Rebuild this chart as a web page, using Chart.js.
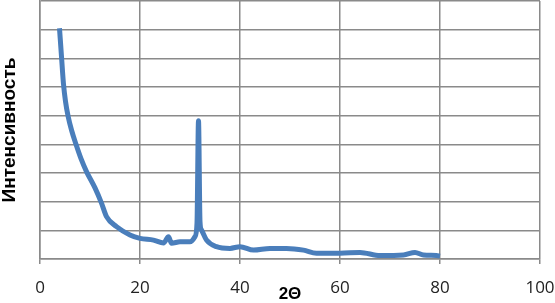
<!DOCTYPE html>
<html>
<head>
<meta charset="utf-8">
<script src="https://cdn.jsdelivr.net/npm/chart.js@4"></script>
<style>
    html, body { margin: 0; padding: 0; background: #fff; }
    #wrap { width: 555px; height: 303px; }
</style>
</head>
<body>
<div id="wrap"><canvas id="xrd"></canvas></div>
<script>
// 2θ values and intensity (arbitrary units, one grid step = 1)
const twoTheta = [3.9, 4.3, 4.7, 5.1, 5.6, 6.3, 7.2, 8.2, 9.3, 11.0, 12.3, 13.3, 15.3, 18.0, 20.0, 22.7, 24.7,
    25.7, 26.3, 28.0, 30.0, 31.0, 31.4, 31.7, 32.0, 32.3, 33.3, 35.3, 38.0, 40.0, 42.7, 46.0, 49.3,
    52.7, 55.3, 60.0, 64.0, 68.0, 72.7, 75.0, 76.7, 79.3, 80.0];
const intensity = [8.05, 7.06, 6.1, 5.5, 5.0, 4.5, 4.0, 3.5, 3.05, 2.48, 1.95, 1.48, 1.13, 0.84, 0.72, 0.66, 0.56,
    0.78, 0.55, 0.6, 0.6, 0.78, 1.25, 4.82, 1.3, 1.01, 0.66, 0.43, 0.37, 0.43, 0.31, 0.37, 0.37,
    0.31, 0.2, 0.2, 0.23, 0.12, 0.14, 0.23, 0.14, 0.12, 0.1];
const xTicks = [0, 20, 40, 60, 80, 100];

const points = twoTheta.map((t, i) => ({ x: t, y: intensity[i] }));

const gridColor = '#8a8a8a';

new Chart(document.getElementById('xrd'), {
    type: 'line',
    data: {
        datasets: [{
            data: points,
            borderColor: '#4a7ebb',
            borderWidth: 5,
            pointRadius: 0,
            cubicInterpolationMode: 'monotone',
            fill: false
        }]
    },
    options: {
        responsive: true,
        maintainAspectRatio: false,
        animation: false,
        layout: { padding: { top: 1, right: 15, left: 0, bottom: 0 } },
        plugins: {
            legend: { display: false },
            tooltip: { enabled: false }
        },
        scales: {
            x: {
                type: 'linear',
                min: 0,
                max: 100,
                afterBuildTicks: (scale) => { scale.ticks = xTicks.map(v => ({ value: v })); },
                afterFit: (scale) => {
                    scale.height = 44;
                    scale.paddingLeft = 0;
                    scale.paddingRight = 0;
                },
                grid: { color: gridColor, lineWidth: 1.5, tickLength: 5 },
                border: { color: gridColor, width: 1.5 },
                ticks: {
                    color: '#222',
                    padding: 14,
                    maxRotation: 0,
                    font: { family: 'Open Sans', size: 17 }
                },
                title: {
                    display: true,
                    text: '2Θ',
                    color: '#000',
                    padding: 0,
                    font: { family: 'Liberation Sans', size: 17, weight: 'bold', lineHeight: 1 }
                }
            },
            y: {
                min: 0,
                max: 9,
                afterFit: (scale) => { scale.width = 40; },
                grid: { color: gridColor, lineWidth: 1.5, drawTicks: false },
                border: { color: gridColor, width: 1.5 },
                ticks: { display: false, stepSize: 1 },
                title: {
                    display: true,
                    text: 'Интенсивность',
                    color: '#000',
                    padding: 0,
                    font: { family: 'Liberation Sans', size: 19, weight: 'bold', lineHeight: 1 }
                }
            }
        }
    }
});
</script>
</body>
</html>
